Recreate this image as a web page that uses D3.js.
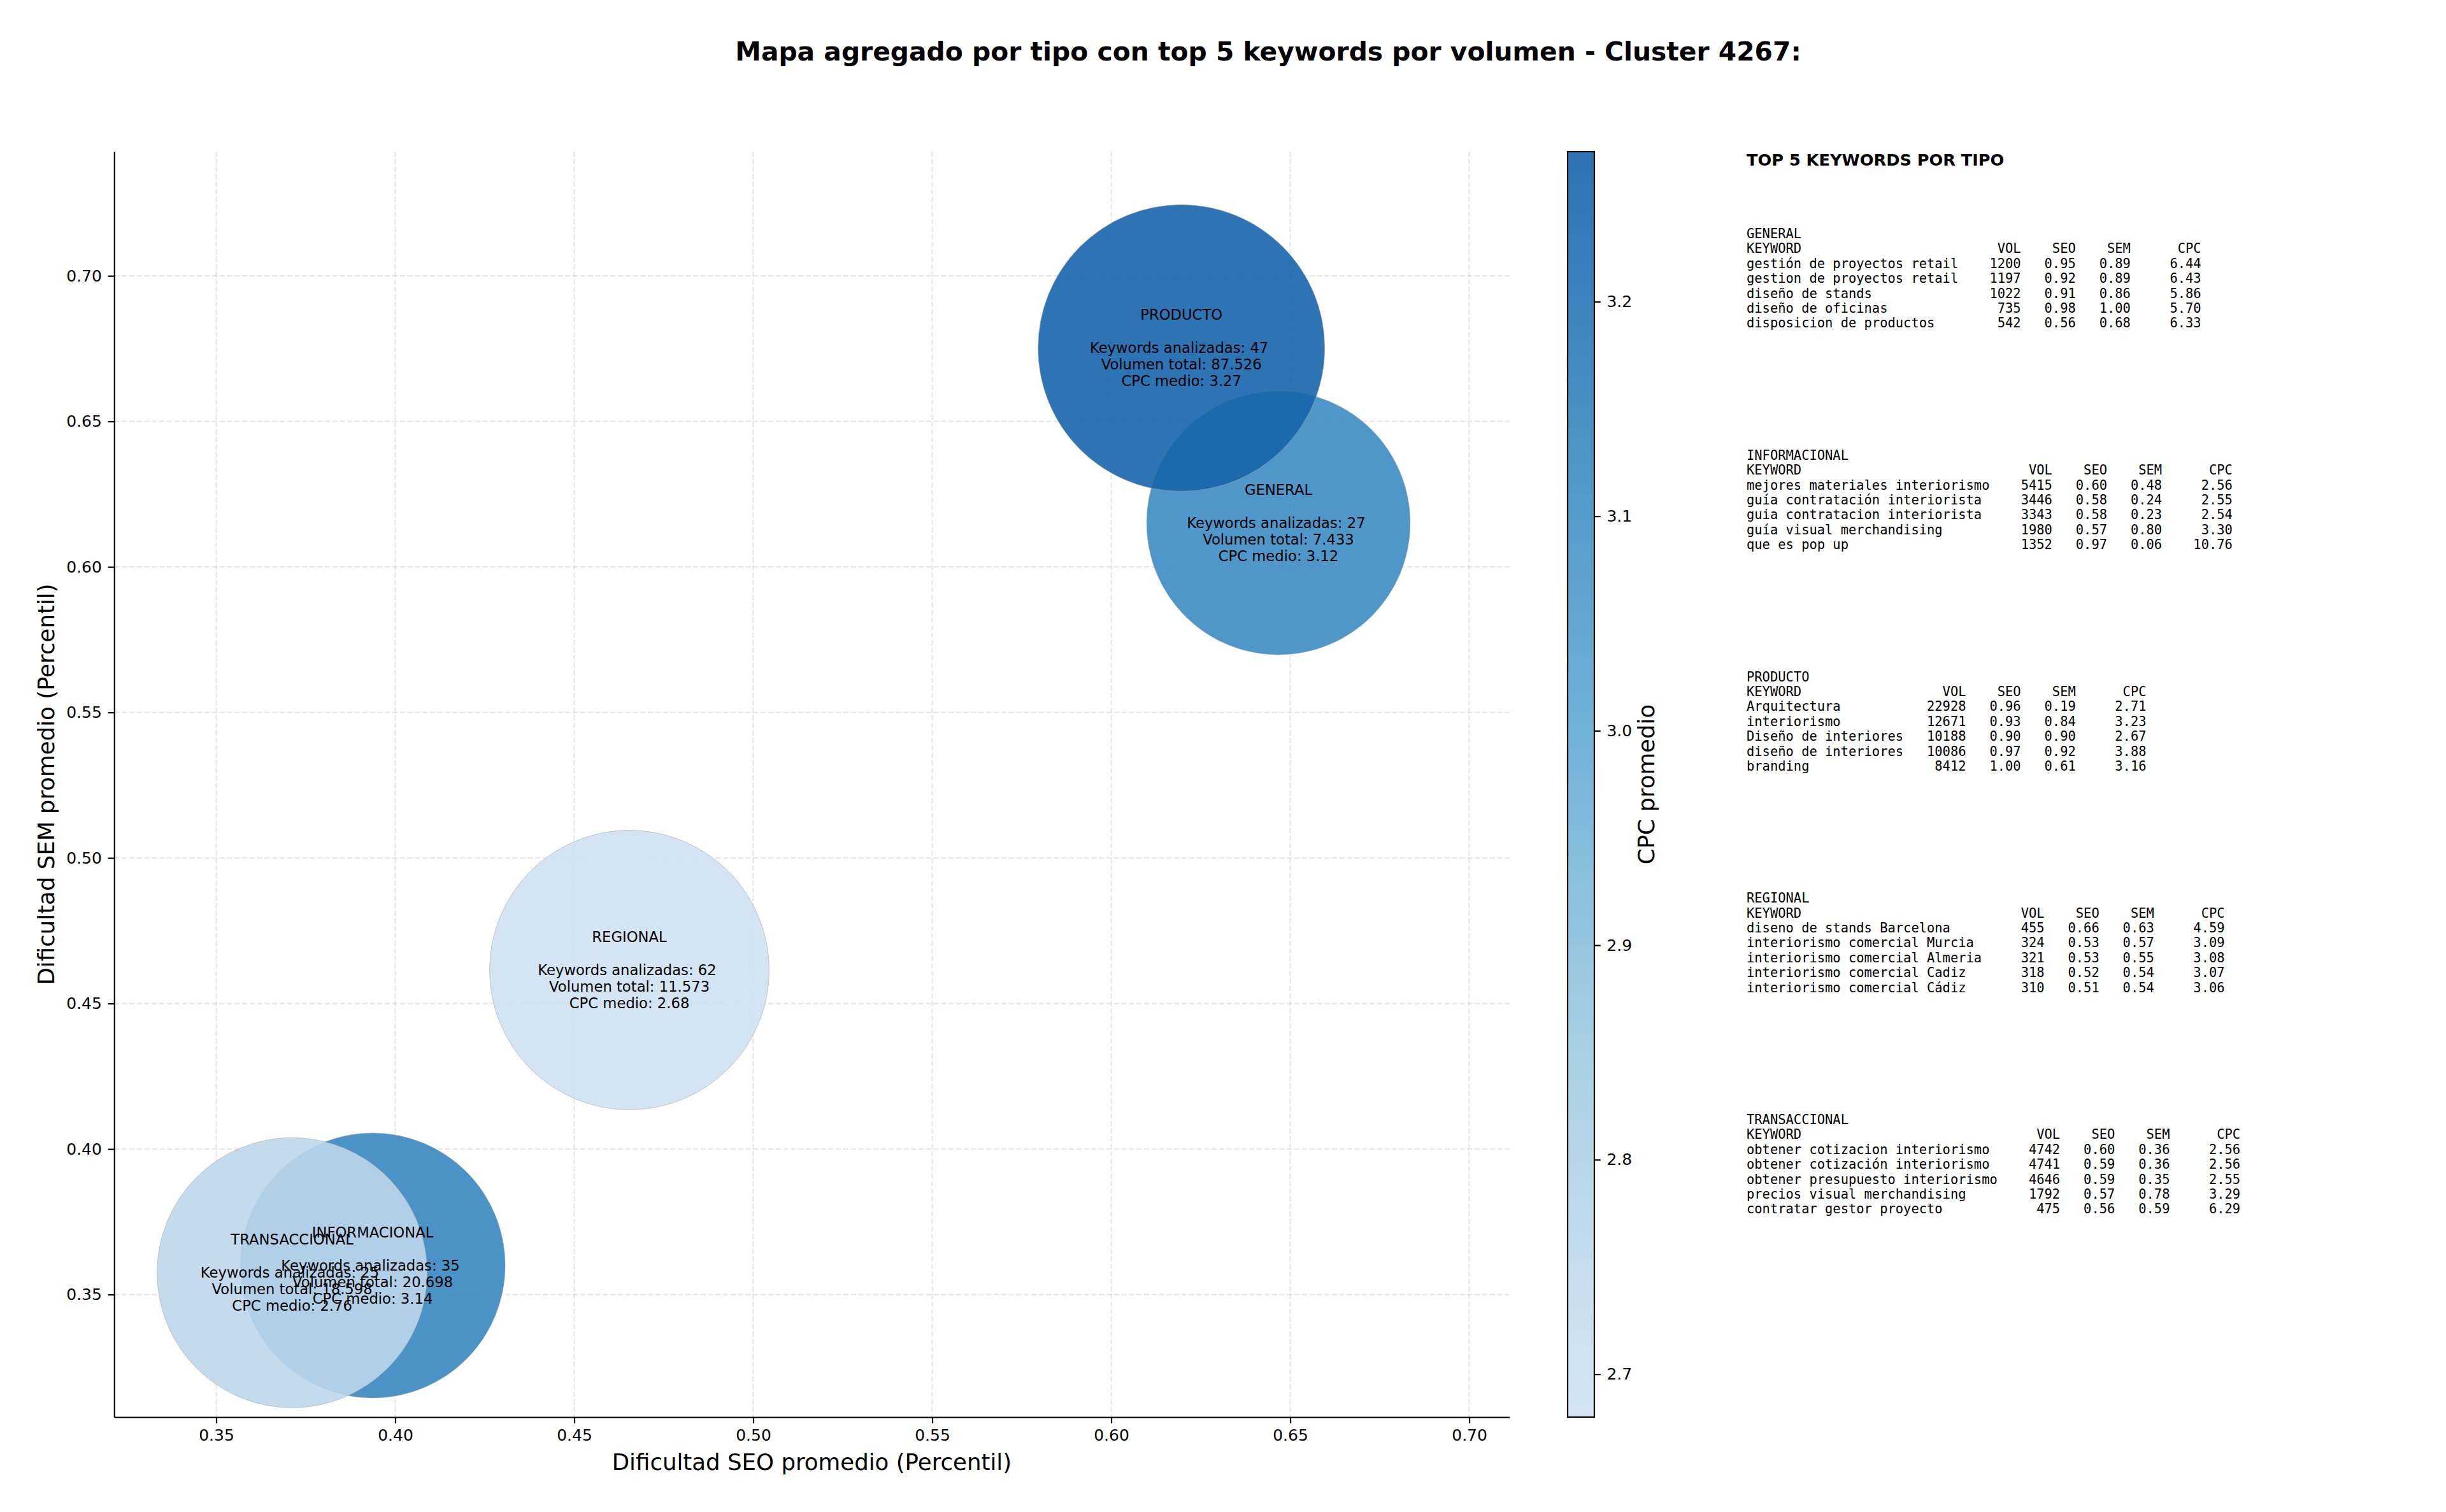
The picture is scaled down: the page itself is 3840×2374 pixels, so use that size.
<!DOCTYPE html>
<html>
<head>
<meta charset="utf-8">
<script src="https://cdn.jsdelivr.net/npm/d3@7"></script>
<style>
body { margin: 0; background: #fff; }
svg text { font-family: "DejaVu Sans", sans-serif; }
.mono { font-family: "DejaVu Sans Mono", monospace; white-space: pre; }
</style>
</head>
<body>
<svg id="chart" width="3840" height="2374"></svg>
<script>
// aggregated values per keyword type
const tipos = ["GENERAL", "INFORMACIONAL", "PRODUCTO", "REGIONAL", "TRANSACCIONAL"]
const seoMedio = [0.6467, 0.3937, 0.6196, 0.4654, 0.3712]
const semMedio = [0.6151, 0.3600, 0.6752, 0.4615, 0.3575]
const nKeywords = [27, 35, 47, 62, 25]
const volTotal = [7433, 20698, 87526, 11573, 18598]
const cpcMedio = [3.12, 3.14, 3.27, 2.68, 2.76]
const markerSize = [22200, 22430, 26240, 24970, 23300]

// top 5 keywords per type (same order as tipos)
const topKeywords = [
    ["gestión de proyectos retail", "gestion de proyectos retail", "diseño de stands", "diseño de oficinas", "disposicion de productos"],
    ["mejores materiales interiorismo", "guía contratación interiorista", "guia contratacion interiorista", "guía visual merchandising", "que es pop up"],
    ["Arquitectura", "interiorismo", "Diseño de interiores", "diseño de interiores", "branding"],
    ["diseno de stands Barcelona", "interiorismo comercial Murcia", "interiorismo comercial Almeria", "interiorismo comercial Cadiz", "interiorismo comercial Cádiz"],
    ["obtener cotizacion interiorismo", "obtener cotización interiorismo", "obtener presupuesto interiorismo", "precios visual merchandising", "contratar gestor proyecto"]
]
const topVol = [
    [1200, 1197, 1022, 735, 542],
    [5415, 3446, 3343, 1980, 1352],
    [22928, 12671, 10188, 10086, 8412],
    [455, 324, 321, 318, 310],
    [4742, 4741, 4646, 1792, 475]
]
const topSeo = [
    [0.95, 0.92, 0.91, 0.98, 0.56],
    [0.60, 0.58, 0.58, 0.57, 0.97],
    [0.96, 0.93, 0.90, 0.97, 1.00],
    [0.66, 0.53, 0.53, 0.52, 0.51],
    [0.60, 0.59, 0.59, 0.57, 0.56]
]
const topSem = [
    [0.89, 0.89, 0.86, 1.00, 0.68],
    [0.48, 0.24, 0.23, 0.80, 0.06],
    [0.19, 0.84, 0.90, 0.92, 0.61],
    [0.63, 0.57, 0.55, 0.54, 0.54],
    [0.36, 0.36, 0.35, 0.78, 0.59]
]
const topCpc = [
    [6.44, 6.43, 5.86, 5.70, 6.33],
    [2.56, 2.55, 2.54, 3.30, 10.76],
    [2.71, 3.23, 2.67, 3.88, 3.16],
    [4.59, 3.09, 3.08, 3.07, 3.06],
    [2.56, 2.56, 2.55, 3.29, 6.29]
]

const xTicks = [0.35, 0.40, 0.45, 0.50, 0.55, 0.60, 0.65, 0.70]
const yTicks = [0.35, 0.40, 0.45, 0.50, 0.55, 0.60, 0.65, 0.70]
const cTicks = [2.7, 2.8, 2.9, 3.0, 3.1, 3.2]

const svg = d3.select("#chart")
const axLeft = 179.3, axRight = 2369.5, axTop = 238, axBottom = 2225
const tick = 9.7

let xScale = d3.scaleLinear().domain([0.3215, 0.7112]).range([axLeft, axRight])
let yScale = d3.scaleLinear().domain([0.3079, 0.7427]).range([axBottom, axTop])
let rScale = d3.scaleSqrt().domain([0, 30000]).range([0, Math.sqrt(30000) / 2 * 2.778])

// matplotlib Blues, truncated to 0.2 - 0.8
const bluesStops = ["#f7fbff", "#deebf7", "#c6dbef", "#9ecae1", "#6baed6", "#4292c6", "#2171b5", "#08519c", "#08306b"]
let blues = d3.scaleLinear().domain(d3.range(9).map(i => i / 8)).range(bluesStops).interpolate(d3.interpolateRgb)
let cNorm = d3.scaleLinear().domain(d3.extent(cpcMedio)).range([0.2, 0.8])
let colorScale = v => blues(cNorm(v))

const fmtVol = d3.formatLocale({decimal: ",", thousands: ".", grouping: [3], currency: ["", "€"]}).format(",d")

// grid
let grid = svg.append("g")
grid.selectAll(".gx").data(xTicks).enter().append("line")
    .attr("x1", d => xScale(d)).attr("x2", d => xScale(d))
    .attr("y1", axTop).attr("y2", axBottom)
grid.selectAll(".gy").data(yTicks).enter().append("line")
    .attr("x1", axLeft).attr("x2", axRight)
    .attr("y1", d => yScale(d)).attr("y2", d => yScale(d))
grid.selectAll("line")
    .attr("stroke", "#b0b0b0").attr("stroke-opacity", 0.3)
    .attr("stroke-width", 2.2).attr("stroke-dasharray", "8.2,3.6")

// bubbles
svg.append("g").selectAll("circle")
    .data(tipos)
    .enter()
    .append("circle")
    .attr("cx", (d, i) => xScale(seoMedio[i]))
    .attr("cy", (d, i) => yScale(semMedio[i]))
    .attr("r", (d, i) => rScale(markerSize[i]))
    .attr("fill", (d, i) => colorScale(cpcMedio[i]))
    .attr("fill-opacity", 0.9)
    .attr("stroke", "#a8a8a8").attr("stroke-opacity", 0.6).attr("stroke-width", 1)

// bubble labels
const lineH = 26
tipos.forEach((t, i) => {
    const lines = [t, "", `Keywords analizadas: ${nKeywords[i]} `, `Volumen total: ${fmtVol(volTotal[i])}`, `CPC medio: ${cpcMedio[i].toFixed(2)}`]
    const cx = xScale(seoMedio[i]), cy = yScale(semMedio[i])
    svg.append("g").selectAll("text")
        .data(lines)
        .enter()
        .append("text")
        .attr("x", cx)
        .attr("y", (d, j) => cy + (j - 2) * lineH + 8)
        .attr("text-anchor", "middle")
        .attr("xml:space", "preserve")
        .style("white-space", "pre")
        .style("font-size", "22.7px")
        .text(d => d)
})

// x and y Axis
let x_axis = d3.axisBottom(xScale).tickValues(xTicks).tickFormat(d3.format(".2f")).tickSize(tick).tickSizeOuter(0).tickPadding(tick)
let y_axis = d3.axisLeft(yScale).tickValues(yTicks).tickFormat(d3.format(".2f")).tickSize(tick).tickSizeOuter(0).tickPadding(tick)
svg.append("g").attr("class", "axis")
    .attr("transform", `translate(0,${axBottom})`)
    .call(x_axis)
svg.append("g").attr("class", "axis")
    .attr("transform", `translate(${axLeft},0)`)
    .call(y_axis)

// colorbar
const cbLeft = 2461, cbRight = 2503
let cScale = d3.scaleLinear().domain(d3.extent(cpcMedio)).range([axBottom, axTop])
let grad = svg.append("defs").append("linearGradient")
    .attr("id", "cbgrad").attr("x1", 0).attr("y1", 1).attr("x2", 0).attr("y2", 0)
grad.selectAll("stop")
    .data(d3.range(0, 1.0001, 0.02))
    .enter()
    .append("stop")
    .attr("offset", d => d)
    .attr("stop-color", d => blues(0.2 + 0.6 * d))
svg.append("rect")
    .attr("x", cbLeft).attr("y", axTop)
    .attr("width", cbRight - cbLeft).attr("height", axBottom - axTop)
    .attr("fill", "url(#cbgrad)").attr("fill-opacity", 0.9)
svg.append("rect")
    .attr("x", cbLeft).attr("y", axTop)
    .attr("width", cbRight - cbLeft).attr("height", axBottom - axTop)
    .attr("fill", "none").attr("stroke", "#000").attr("stroke-width", 2.2)
let c_axis = d3.axisRight(cScale).tickValues(cTicks).tickFormat(d3.format(".1f")).tickSize(tick).tickSizeOuter(0).tickPadding(tick)
svg.append("g").attr("class", "axis cbar")
    .attr("transform", `translate(${cbRight},0)`)
    .call(c_axis)
svg.select(".cbar").select(".domain").remove()

svg.selectAll(".axis path").attr("stroke", "#000").attr("stroke-width", 2.2)
svg.selectAll(".axis line").attr("stroke", "#000").attr("stroke-width", 2.2)
svg.selectAll(".axis text").style("font-size", "25px").attr("fill", "#000")

// labels
svg.append("text")
    .attr("x", (axLeft + axRight) / 2).attr("y", 2308)
    .attr("text-anchor", "middle")
    .style("font-size", "35.6px")
    .text("Dificultad SEO promedio (Percentil)")
svg.append("text")
    .attr("transform", `translate(85,${(axTop + axBottom) / 2}) rotate(-90)`)
    .attr("text-anchor", "middle")
    .style("font-size", "35.6px")
    .text("Dificultad SEM promedio (Percentil)")
svg.append("text")
    .attr("transform", `translate(2597,${(axTop + axBottom) / 2}) rotate(-90)`)
    .attr("text-anchor", "middle")
    .style("font-size", "35.6px")
    .text("CPC promedio")

// Title
svg.append("text")
    .attr("x", 1991).attr("y", 95)
    .attr("text-anchor", "middle")
    .style("font-size", "40.8px").style("font-weight", "bold")
    .text("Mapa agregado por tipo con top 5 keywords por volumen - Cluster 4267:")

// top 5 tables
const tx = 2742, rowH = 23.4, blockH = 347.75
svg.append("text")
    .attr("x", tx).attr("y", 260)
    .style("font-size", "25.6px").style("font-weight", "bold")
    .text("TOP 5 KEYWORDS POR TIPO")

tipos.forEach((t, i) => {
    const w = d3.max(topKeywords[i], k => k.length)
    const lines = [t, "KEYWORD".padEnd(w) + "VOL".padStart(8) + "SEO".padStart(7) + "SEM".padStart(7) + "CPC".padStart(9)]
    topKeywords[i].forEach((k, j) => {
        lines.push(k.padEnd(w) + String(topVol[i][j]).padStart(8) + topSeo[i][j].toFixed(2).padStart(7)
            + topSem[i][j].toFixed(2).padStart(7) + topCpc[i][j].toFixed(2).padStart(9))
    })
    svg.append("g").selectAll("text")
        .data(lines)
        .enter()
        .append("text")
        .attr("class", "mono")
        .attr("xml:space", "preserve")
        .attr("x", tx)
        .attr("y", (d, j) => 374 + i * blockH + j * rowH)
        .style("font-size", "20.45px")
        .text(d => d)
})
</script>
</body>
</html>
